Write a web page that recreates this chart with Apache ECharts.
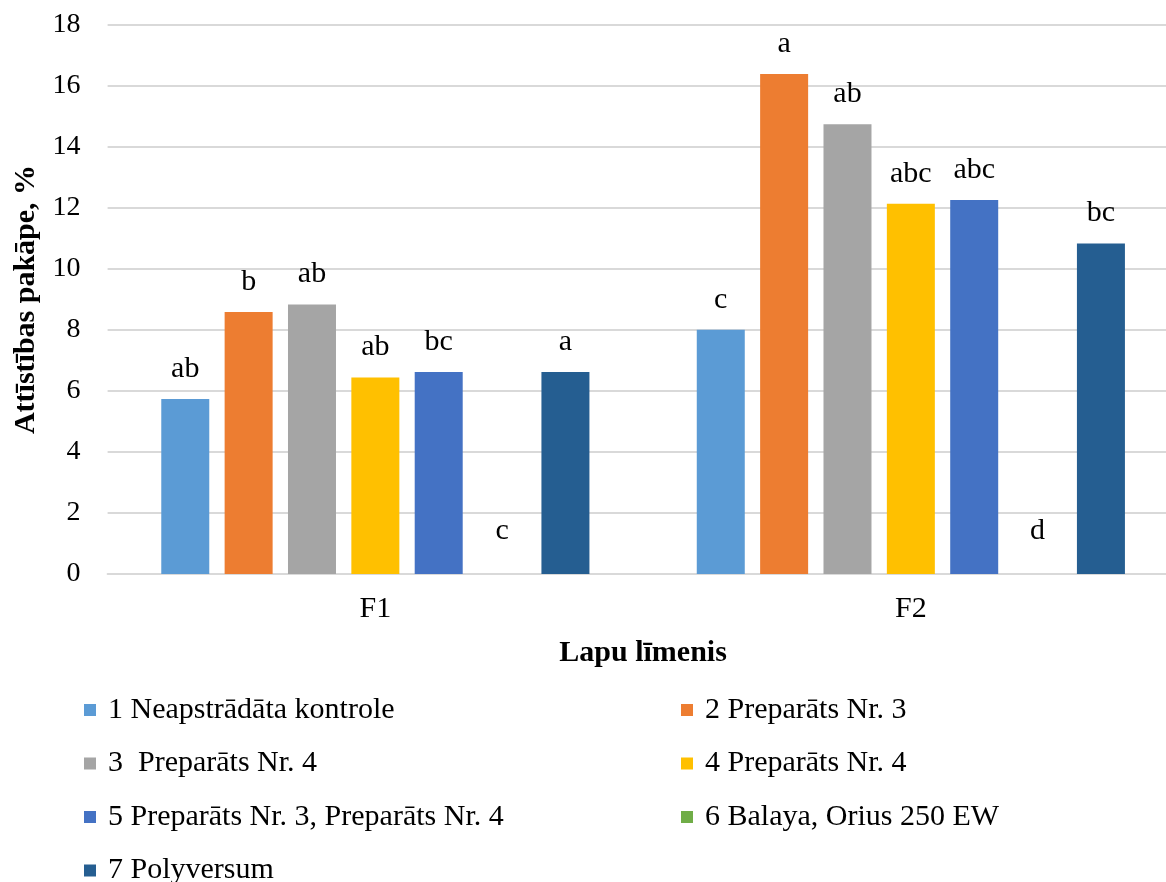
<!DOCTYPE html>
<html>
<head>
<meta charset="utf-8">
<script src="https://cdn.jsdelivr.net/npm/echarts@6/dist/echarts.min.js"></script>
<style>
  html, body { margin: 0; padding: 0; background: #fff; overflow: hidden; }
  /* the plot runs slightly past the right edge of the window */
  #chart { width: 1180px; height: 882px; }
</style>
</head>
<body>
<div id="chart"></div>
<script>
// Leaf levels on the category axis
const categories = ['F1', 'F2'];

// Treatments (legend order)
const seriesNames = [
  '1 Neapstrādāta kontrole',
  '2 Preparāts Nr. 3',
  '3  Preparāts Nr. 4',
  '4 Preparāts Nr. 4',
  '5 Preparāts Nr. 3, Preparāts Nr. 4',
  '6 Balaya, Orius 250 EW',
  '7 Polyversum'
];

// Development degree, % (F1, F2) per treatment
const t1Values = [5.74, 8.01];
const t2Values = [8.59, 16.39];
const t3Values = [8.84, 14.75];
const t4Values = [6.44, 12.14];
const t5Values = [6.62, 12.26];
const t6Values = [0, 0];
const t7Values = [6.62, 10.84];

// Significance letters shown above each bar (F1, F2)
const t1Letters = ['ab', 'c'];
const t2Letters = ['b', 'a'];
const t3Letters = ['ab', 'ab'];
const t4Letters = ['ab', 'abc'];
const t5Letters = ['bc', 'abc'];
const t6Letters = ['c', 'd'];
const t7Letters = ['a', 'bc'];

// Y axis ticks
const yMin = 0, yMax = 18, yStep = 2;

const colors = ['#5B9BD5', '#ED7D31', '#A5A5A5', '#FFC000', '#4472C4', '#70AD47', '#255E91'];
const valueSets = [t1Values, t2Values, t3Values, t4Values, t5Values, t6Values, t7Values];
const letterSets = [t1Letters, t2Letters, t3Letters, t4Letters, t5Letters, t6Letters, t7Letters];

const FONT = '"Liberation Serif", "Times New Roman", serif';

const series = seriesNames.map((name, i) => ({
  name: name,
  type: 'bar',
  barWidth: 48,
  barGap: '32%',
  itemStyle: { color: colors[i] },
  data: valueSets[i],
  label: {
    show: true,
    position: 'top',
    distance: i === 5 ? 28 : 15,
    fontFamily: FONT,
    fontSize: 30,
    color: '#000',
    formatter: (p) => letterSets[i][p.dataIndex]
  }
}));

const legendText = {
  fontFamily: FONT,
  fontSize: 30,
  lineHeight: 30,
  color: '#000',
  padding: [0, 0, 0, 7]
};

const ROW0 = 695, ROW_STEP = 53.5;

function legendColumn(left, top, names) {
  return {
    orient: 'vertical',
    left: left,
    top: top,
    padding: 0,
    itemWidth: 12,
    itemHeight: 12,
    itemGap: ROW_STEP - 30,
    icon: 'rect',
    selectedMode: false,
    textStyle: legendText,
    data: names
  };
}

const chart = echarts.init(document.getElementById('chart'), null, { renderer: 'canvas' });
chart.setOption({
  backgroundColor: '#fff',
  animation: false,
  color: colors,
  grid: { left: 107.6, top: 25, width: 1071, bottom: 308, containLabel: false },
  legend: [
    legendColumn(84, ROW0, [seriesNames[0], seriesNames[2], seriesNames[4]]),
    legendColumn(84, ROW0 + 3 * ROW_STEP, [seriesNames[6]]),
    legendColumn(681, ROW0, [seriesNames[1], seriesNames[3], seriesNames[5]])
  ],
  xAxis: {
    type: 'category',
    data: categories,
    axisLine: { show: true, lineStyle: { color: '#D9D9D9', width: 2 } },
    axisTick: { show: false },
    axisLabel: { fontFamily: FONT, fontSize: 30, color: '#000', margin: 20 },
    name: 'Lapu līmenis',
    nameLocation: 'middle',
    nameGap: 64,
    nameTextStyle: { fontFamily: FONT, fontSize: 30, fontWeight: 'bold', color: '#000' }
  },
  yAxis: {
    type: 'value',
    min: yMin,
    max: yMax,
    interval: yStep,
    axisLine: { show: false },
    axisTick: { show: false },
    splitLine: { lineStyle: { color: '#D9D9D9', width: 2 } },
    axisLabel: { fontFamily: FONT, fontSize: 28, color: '#000', margin: 27 },
    name: 'Attīstības pakāpe, %',
    nameLocation: 'middle',
    nameGap: 66,
    nameRotate: 90,
    nameTextStyle: { fontFamily: FONT, fontSize: 30, fontWeight: 'bold', color: '#000' }
  },
  series: series
});
</script>
</body>
</html>
